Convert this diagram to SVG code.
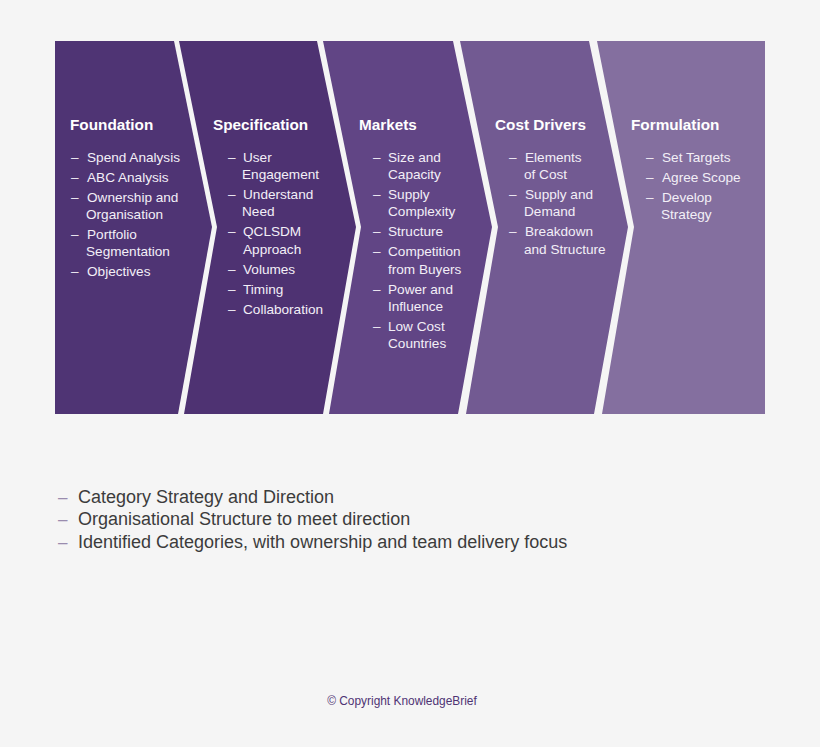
<svg xmlns="http://www.w3.org/2000/svg" width="820" height="747" viewBox="0 0 820 747">
<style>
.t{font-family:"Liberation Sans",Arial,sans-serif;font-weight:bold;font-size:15.3px;fill:#ffffff}
.i{font-family:"Liberation Sans",Arial,sans-serif;font-size:13.6px;fill:#f3eff7}
.b{font-family:"Liberation Sans",Arial,sans-serif;font-size:18px;fill:#3c3c3c}
.bd{font-family:"Liberation Sans",Arial,sans-serif;font-size:17px;fill:#9a8cae}
.c{font-family:"Liberation Sans",Arial,sans-serif;font-size:11.9px;fill:#4e3374}
</style>
<rect width="820" height="747" fill="#f5f5f5"/>
<g id="foundation">
<polygon points="55,41 174,41 212,227 178,414 55,414" fill="#4f3474"/>
<text class="t" x="70" y="130">Foundation</text>
<g class="i">
<text x="71" y="162">–</text><text x="87" y="162">Spend Analysis</text>
<text x="71" y="182">–</text><text x="87" y="182">ABC Analysis</text>
<text x="71" y="202">–</text><text x="87" y="202">Ownership and</text>
<text x="86" y="219">Organisation</text>
<text x="71" y="239">–</text><text x="87" y="239">Portfolio</text>
<text x="86" y="256">Segmentation</text>
<text x="71" y="276">–</text><text x="87" y="276">Objectives</text>
</g>
</g>
<g id="specification">
<polygon points="179,41 317,41 356,227 323,414 184,414 217,227" fill="#4e3272"/>
<text class="t" x="213" y="130">Specification</text>
<g class="i">
<text x="228" y="162">–</text><text x="243" y="162">User</text>
<text x="242" y="179">Engagement</text>
<text x="228" y="199">–</text><text x="243" y="199">Understand</text>
<text x="242" y="216">Need</text>
<text x="228" y="236">–</text><text x="243" y="236">QCLSDM</text>
<text x="243" y="254">Approach</text>
<text x="228" y="274">–</text><text x="243" y="274">Volumes</text>
<text x="228" y="294">–</text><text x="243" y="294">Timing</text>
<text x="228" y="314">–</text><text x="243" y="314">Collaboration</text>
</g>
</g>
<g id="markets">
<polygon points="323,41 453,41 492,227 458,414 329,414 361,227" fill="#614585"/>
<text class="t" x="359" y="130">Markets</text>
<g class="i">
<text x="373" y="162">–</text><text x="388" y="162">Size and</text>
<text x="388" y="179">Capacity</text>
<text x="373" y="199">–</text><text x="388" y="199">Supply</text>
<text x="388" y="216">Complexity</text>
<text x="373" y="236">–</text><text x="388" y="236">Structure</text>
<text x="373" y="256">–</text><text x="388" y="256">Competition</text>
<text x="388" y="274">from Buyers</text>
<text x="373" y="294">–</text><text x="388" y="294">Power and</text>
<text x="388" y="311">Influence</text>
<text x="373" y="331">–</text><text x="388" y="331">Low Cost</text>
<text x="388" y="348">Countries</text>
</g>
</g>
<g id="cost-drivers">
<polygon points="460,41 589,41 628,227 594,414 466,414 498,227" fill="#725a92"/>
<text class="t" x="495" y="130">Cost Drivers</text>
<g class="i">
<text x="509" y="162">–</text><text x="525" y="162">Elements</text>
<text x="524" y="179">of Cost</text>
<text x="509" y="199">–</text><text x="525" y="199">Supply and</text>
<text x="524" y="216">Demand</text>
<text x="509" y="236">–</text><text x="525" y="236">Breakdown</text>
<text x="524" y="254">and Structure</text>
</g>
</g>
<g id="formulation">
<polygon points="597,41 765,41 765,414 602,414 634,227" fill="#846f9f"/>
<text class="t" x="631" y="130">Formulation</text>
<g class="i">
<text x="646" y="162">–</text><text x="662" y="162">Set Targets</text>
<text x="646" y="182">–</text><text x="662" y="182">Agree Scope</text>
<text x="646" y="202">–</text><text x="662" y="202">Develop</text>
<text x="661" y="219">Strategy</text>
</g>
</g>
<g id="summary">
<text class="bd" x="58" y="503">–</text><text class="b" x="78" y="503">Category Strategy and Direction</text>
<text class="bd" x="58" y="525">–</text><text class="b" x="78" y="525">Organisational Structure to meet direction</text>
<text class="bd" x="58" y="548">–</text><text class="b" x="78" y="548">Identified Categories, with ownership and team delivery focus</text>
</g>
<g id="connectors"></g>
<text class="c" x="402" y="705" text-anchor="middle">© Copyright KnowledgeBrief</text>
</svg>
